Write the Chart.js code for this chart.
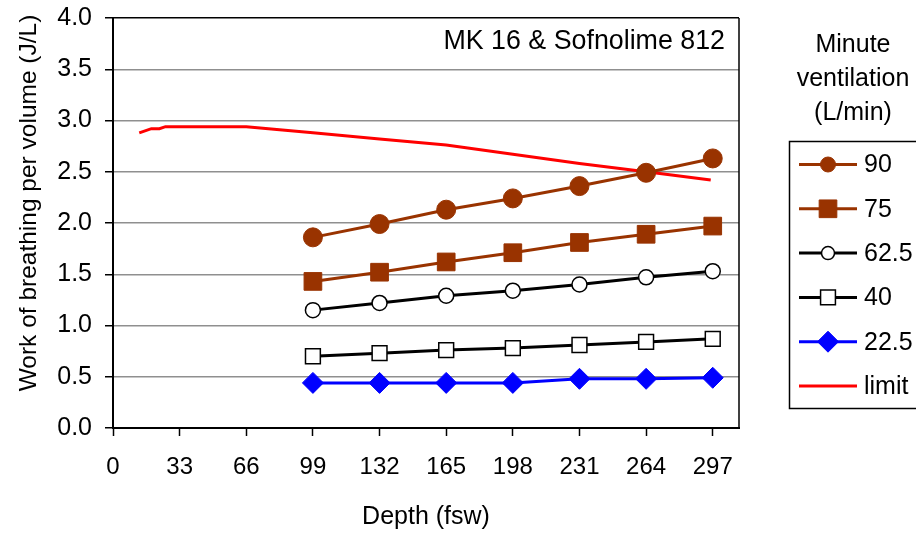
<!DOCTYPE html>
<html>
<head>
<meta charset="utf-8">
<script src="https://cdn.jsdelivr.net/npm/chart.js@4/dist/chart.umd.min.js"></script>
<style>
html,body{margin:0;padding:0;background:#fff;}
#wrap{width:916px;height:533px;position:relative;}
</style>
</head>
<body>
<div id="wrap"><canvas id="c" width="916" height="533"></canvas></div>
<script>
// ---- data ----
const depths = [99, 132, 165, 198, 231, 264, 297];
const seriesLabels = ["90", "75", "62.5", "40", "22.5", "limit"];
const mv90   = [1.86, 1.99, 2.13, 2.24, 2.36, 2.49, 2.63];
const mv75   = [1.43, 1.52, 1.62, 1.71, 1.81, 1.89, 1.97];
const mv62_5 = [1.15, 1.22, 1.29, 1.34, 1.40, 1.47, 1.53];
const mv40   = [0.70, 0.73, 0.76, 0.78, 0.81, 0.84, 0.87];
const mv22_5 = [0.44, 0.44, 0.44, 0.44, 0.48, 0.48, 0.49];
const limitDepths = [13, 19, 23, 26, 66, 99, 132, 165, 198, 231, 264, 296];
const limitValues = [2.88, 2.92, 2.92, 2.94, 2.94, 2.88, 2.82, 2.76, 2.67, 2.58, 2.50, 2.42];
const xTicks = [0, 33, 66, 99, 132, 165, 198, 231, 264, 297];
const yTicks = [0, 0.5, 1.0, 1.5, 2.0, 2.5, 3.0, 3.5, 4.0];
const chartTitle = "MK 16 & Sofnolime 812";
const legendTitle = ["Minute", "ventilation", "(L/min)"];
const xTitle = "Depth (fsw)";
const yTitle = "Work of breathing per volume (J/L)";

const FONT = "'Liberation Sans', Arial, sans-serif";
const BROWN = "#993300";

function pts(xs, ys){ return xs.map((x,i)=>({x:x, y:ys[i]})); }

const datasets = [
  {label: seriesLabels[0], data: pts(depths, mv90), borderColor: BROWN, backgroundColor: BROWN,
   pointStyle:'circle', pointRadius:9.5, pointBorderWidth:1, legendRadius:7.5},
  {label: seriesLabels[1], data: pts(depths, mv75), borderColor: BROWN, backgroundColor: BROWN,
   pointStyle:'rect', pointRadius:12.5, pointBorderWidth:1, legendRadius:12.5},
  {label: seriesLabels[2], data: pts(depths, mv62_5), borderColor: "#000", backgroundColor: "#fff",
   pointStyle:'circle', pointRadius:7.5, pointBorderWidth:1.5, legendRadius:6.5},
  {label: seriesLabels[3], data: pts(depths, mv40), borderColor: "#000", backgroundColor: "#fff",
   pointStyle:'rect', pointRadius:10.5, pointBorderWidth:1.5, legendRadius:10.5},
  {label: seriesLabels[4], data: pts(depths, mv22_5), borderColor: "#0000ff", backgroundColor: "#0000ff",
   pointStyle:'rectRot', pointRadius:10.5, pointBorderWidth:1, legendRadius:10.5},
  {label: seriesLabels[5], data: pts(limitDepths, limitValues), borderColor: "#ff0000", backgroundColor: "#ff0000",
   pointStyle:false, pointRadius:0, legendRadius:0}
];
datasets.forEach(d => { d.borderWidth = 3; d.tension = 0; d.fill = false;
  d.pointBackgroundColor = d.backgroundColor; d.pointBorderColor = d.borderColor; d.pointHoverRadius = d.pointRadius; });

function drawMarker(ctx, style, r, x, y, fill, stroke, bw){
  if (!style || r <= 0) return;
  ctx.save();
  ctx.beginPath();
  if (style === 'circle') { ctx.arc(x, y, r, 0, Math.PI*2); }
  else if (style === 'rect') { const s = r*Math.SQRT1_2; ctx.rect(x-s, y-s, 2*s, 2*s); }
  else if (style === 'rectRot') { ctx.moveTo(x, y-r); ctx.lineTo(x+r, y); ctx.lineTo(x, y+r); ctx.lineTo(x-r, y); ctx.closePath(); }
  ctx.fillStyle = fill; ctx.fill();
  ctx.lineWidth = bw; ctx.strokeStyle = stroke; ctx.stroke();
  ctx.restore();
}

const decor = {
  id: 'decor',
  afterDraw(chart){
    const ctx = chart.ctx, a = chart.chartArea;
    ctx.save();
    // right border of plot area
    ctx.strokeStyle = '#000'; ctx.lineWidth = 1.5;
    ctx.beginPath(); ctx.moveTo(a.right, a.top); ctx.lineTo(a.right, a.bottom); ctx.stroke();
    // chart title inside plot
    ctx.fillStyle = '#000';
    ctx.font = "26.8px " + FONT;
    ctx.textAlign = 'right'; ctx.textBaseline = 'middle';
    ctx.fillText(chartTitle, 725, 42);
    // y axis title
    ctx.save();
    ctx.translate(29, 203);
    ctx.rotate(-Math.PI/2);
    ctx.textAlign = 'center'; ctx.textBaseline = 'middle';
    ctx.font = "24.5px " + FONT;
    ctx.fillText(yTitle, 0, 0);
    ctx.restore();
    // legend title
    ctx.textAlign = 'center'; ctx.textBaseline = 'middle';
    ctx.font = "25px " + FONT;
    legendTitle.forEach((t,i) => ctx.fillText(t, 853, 45 + i*34));
    // legend box
    ctx.lineWidth = 1.5; ctx.strokeStyle = '#000';
    ctx.strokeRect(789.5, 141.5, 140, 267);
    // legend items
    chart.data.datasets.forEach((d, i) => {
      const y = 164.5 + i*44.3;
      ctx.strokeStyle = d.borderColor; ctx.lineWidth = d.borderWidth;
      ctx.beginPath(); ctx.moveTo(799, y); ctx.lineTo(857, y); ctx.stroke();
      drawMarker(ctx, d.pointStyle, d.legendRadius, 828, y, d.pointBackgroundColor, d.pointBorderColor, d.pointBorderWidth);
      ctx.fillStyle = '#000';
      ctx.textAlign = 'left'; ctx.textBaseline = 'middle';
      ctx.font = "25px " + FONT;
      ctx.fillText(d.label, 864, y + 1);
    });
    ctx.restore();
  }
};

new Chart(document.getElementById('c'), {
  type: 'line',
  data: { datasets: datasets },
  options: {
    responsive: false,
    animation: false,
    events: [],
    layout: { padding: { top: 18, right: 177, bottom: 0, left: 0 } },
    plugins: { legend: { display: false }, tooltip: { enabled: false }, title: { display: false } },
    scales: {
      x: {
        type: 'linear', min: 0, max: 310,
        afterBuildTicks: s => { s.ticks = xTicks.map(v => ({value: v})); },
        afterFit: s => { s.height = 105; s.paddingLeft = 0; s.paddingRight = 0; },
        grid: { drawOnChartArea: false, drawTicks: true, tickLength: 8, tickColor: '#000', tickWidth: 1.5 },
        border: { display: true, color: '#000', width: 2 },
        ticks: { color: '#000', font: { family: FONT, size: 24 }, padding: 17, maxRotation: 0, autoSkip: false },
        title: { display: true, text: xTitle, color: '#000', font: { family: FONT, size: 25 }, padding: { top: 0, bottom: 1 } }
      },
      y: {
        type: 'linear', min: 0, max: 4,
        afterBuildTicks: s => { s.ticks = yTicks.map(v => ({value: v})); },
        afterFit: s => { s.width = 113; s.paddingTop = 0; s.paddingBottom = 0; },
        grid: { color: ctx => (ctx.tick && ctx.tick.value === 4 ? '#000' : '#8f8f8f'),
                lineWidth: 1.5,
                drawTicks: true, tickLength: 8, tickColor: '#000', tickWidth: 1.5 },
        border: { display: true, color: '#000', width: 2 },
        ticks: { color: '#000', font: { family: FONT, size: 25 }, padding: 13,
                 callback: v => Number(v).toFixed(1) }
      }
    }
  },
  plugins: [decor]
});
</script>
</body>
</html>
